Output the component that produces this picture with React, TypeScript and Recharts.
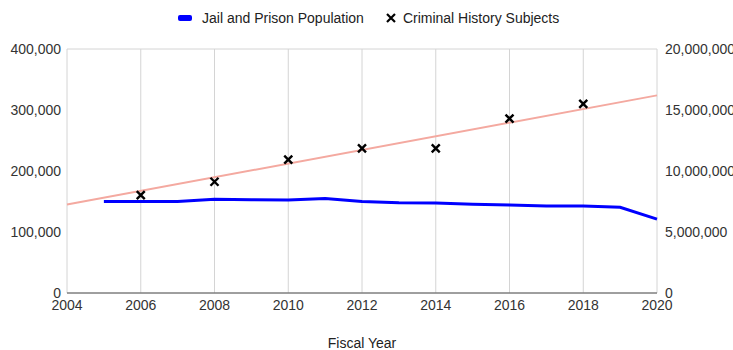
import {
  ComposedChart,
  Line,
  Scatter,
  XAxis,
  YAxis,
  CartesianGrid,
  Label,
} from "recharts";

const years = [2004, 2005, 2006, 2007, 2008, 2009, 2010, 2011, 2012, 2013, 2014, 2015, 2016, 2017, 2018, 2019, 2020];
const jailPop = [null, 150000, 150000, 150000, 153500, 153000, 152500, 155000, 150000, 148000, 147500, 145500, 144300, 142600, 142600, 140500, 121000];
const criminalHistory = [null, null, 8030000, null, 9120000, null, 10930000, null, 11860000, null, 11860000, null, 14300000, null, 15500000, null, null];
const trend = [7250000, null, null, null, null, null, null, null, null, null, null, null, null, null, null, null, 16200000];

const xTicks = [2004, 2006, 2008, 2010, 2012, 2014, 2016, 2018, 2020];
const leftTicks = [0, 100000, 200000, 300000, 400000];
const rightTicks = [0, 5000000, 10000000, 15000000, 20000000];

const data = years.map((year, i) => ({
  year,
  jail: jailPop[i],
  subjects: criminalHistory[i],
  trend: trend[i],
}));

const FONT = "'Liberation Sans', Arial, sans-serif";
const fmt = (v: number) => v.toLocaleString("en-US");

function Cross(props: any) {
  const { cx, cy } = props;
  if (cx == null || cy == null) return null;
  const s = 4;
  return (
    <path
      d={`M${cx - s},${cy - s}L${cx + s},${cy + s}M${cx + s},${cy - s}L${cx - s},${cy + s}`}
      stroke="#000"
      strokeWidth={2.4}
    />
  );
}

function ChartLegend() {
  return (
    <div
      style={{
        position: "absolute",
        left: 178,
        top: 10,
        display: "flex",
        alignItems: "center",
        fontFamily: FONT,
        fontSize: 14,
        color: "#222",
        whiteSpace: "nowrap",
        lineHeight: "16px",
      }}
    >
      <span style={{ display: "inline-block", width: 14, height: 6, background: "#0000ff", borderRadius: 2, marginRight: 10 }} />
      <span style={{ marginRight: 22 }}>Jail and Prison Population</span>
      <svg width={10} height={10} style={{ marginRight: 7 }}>
        <path d="M1,1L9,9M9,1L1,9" stroke="#000" strokeWidth={2.2} />
      </svg>
      <span>Criminal History Subjects</span>
    </div>
  );
}

export default function App() {
  return (
    <div style={{ position: "absolute", left: 0, top: 0, width: 733, height: 350, background: "#fff" }}>
      <ComposedChart
        width={733}
        height={350}
        data={data}
        margin={{ top: 49, right: 0, bottom: 0, left: 0 }}
      >
        <CartesianGrid stroke="#d4d4d4" />
        <XAxis
          dataKey="year"
          type="number"
          domain={[2004, 2020]}
          ticks={xTicks}
          height={57}
          tickLine={false}
          tickSize={0}
          tickMargin={7}
          axisLine={{ stroke: "#555" }}
          tick={{ fill: "#333", fontSize: 14, fontFamily: FONT }}
        >
          <Label
            value="Fiscal Year"
            position="insideBottom"
            offset={2}
            style={{ fill: "#222", fontSize: 14, fontFamily: FONT }}
          />
        </XAxis>
        <YAxis
          yAxisId="left"
          orientation="left"
          width={67}
          domain={[0, 400000]}
          ticks={leftTicks}
          tickFormatter={fmt}
          axisLine={false}
          tickLine={false}
          tickSize={0}
          tickMargin={6}
          tick={{ fill: "#333", fontSize: 14, fontFamily: FONT }}
        />
        <YAxis
          yAxisId="right"
          orientation="right"
          width={76}
          domain={[0, 20000000]}
          ticks={rightTicks}
          tickFormatter={fmt}
          axisLine={false}
          tickLine={false}
          tickSize={0}
          tickMargin={8}
          tick={{ fill: "#333", fontSize: 14, fontFamily: FONT, textAnchor: "start" }}
        />
        <Line
          yAxisId="right"
          dataKey="trend"
          stroke="#f4a9a0"
          strokeWidth={2}
          dot={false}
          connectNulls
          isAnimationActive={false}
          legendType="none"
        />
        <Line
          yAxisId="left"
          dataKey="jail"
          stroke="#0000ff"
          strokeWidth={3}
          dot={false}
          isAnimationActive={false}
        />
        <Scatter
          yAxisId="right"
          dataKey="subjects"
          shape={<Cross />}
          isAnimationActive={false}
        />
      </ComposedChart>
      <ChartLegend />
    </div>
  );
}
